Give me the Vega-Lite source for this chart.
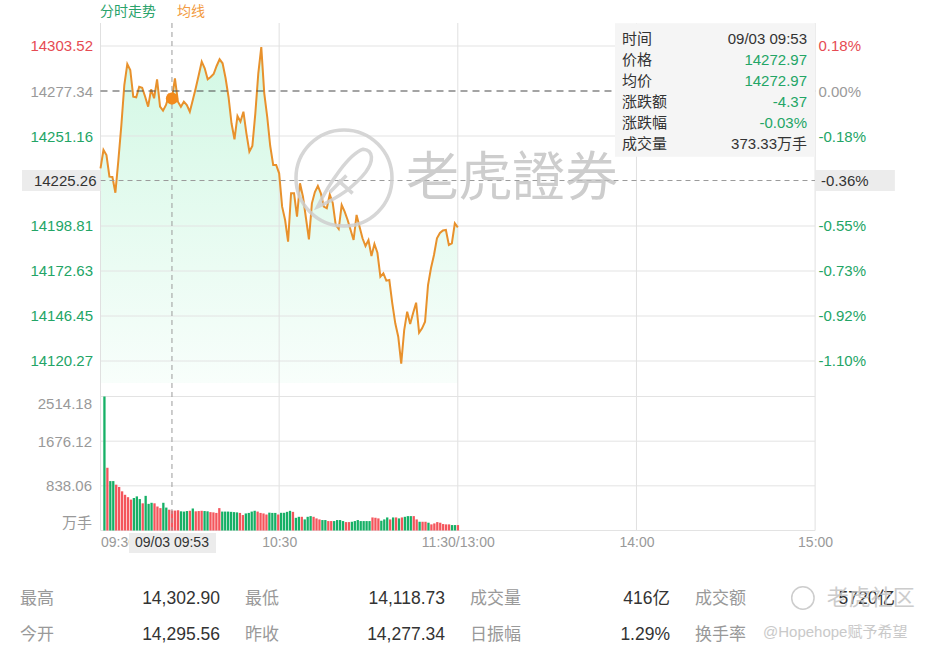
{
  "$schema": "https://vega.github.io/schema/vega-lite/v6.json",
  "width": 937,
  "height": 650,
  "padding": 0,
  "autosize": "none",
  "background": "#ffffff",
  "config": {
    "view": {"stroke": null},
    "font": "Liberation Sans, Noto Sans CJK SC",
    "axis": {"labelFont": "Liberation Sans, Noto Sans CJK SC"}
  },
  "datasets": {
    "price": [
      {"k":0,"p":14232.37},{"k":1,"p":14243.02},{"k":2,"p":14240.11},{"k":3,"p":14227.49},{"k":4,"p":14227.30},
      {"k":5,"p":14218.18},{"k":6,"p":14237.03},{"k":7,"p":14257.33},{"k":8,"p":14280.83},{"k":9,"p":14293.05},
      {"k":10,"p":14289.56},{"k":11,"p":14274.03},{"k":12,"p":14273.68},{"k":13,"p":14279.84},{"k":14,"p":14279.26},
      {"k":15,"p":14274.03},{"k":16,"p":14268.21},{"k":17,"p":14278.33},{"k":18,"p":14273.10},{"k":19,"p":14284.15},
      {"k":20,"p":14268.21},{"k":21,"p":14265.88},{"k":22,"p":14269.20},{"k":23,"p":14275.02},{"k":24,"p":14272.97},
      {"k":25,"p":14284.73},{"k":26,"p":14271.12},{"k":27,"p":14268.21},{"k":28,"p":14271.12},{"k":29,"p":14269.20},
      {"k":30,"p":14265.30},{"k":31,"p":14272.11},{"k":32,"p":14279.09},{"k":33,"p":14286.65},{"k":34,"p":14294.39},
      {"k":35,"p":14290.55},{"k":36,"p":14284.15},{"k":37,"p":14285.49},{"k":38,"p":14287.23},{"k":39,"p":14291.89},
      {"k":40,"p":14295.78},{"k":41,"p":14293.46},{"k":42,"p":14284.90},{"k":43,"p":14273.85},{"k":44,"p":14258.55},
      {"k":45,"p":14249.24},{"k":46,"p":14262.80},{"k":47,"p":14259.48},{"k":48,"p":14265.30},{"k":49,"p":14252.73},
      {"k":50,"p":14242.03},{"k":51,"p":14245.35},{"k":52,"p":14264.37},{"k":53,"p":14287.64},{"k":54,"p":14302.90},
      {"k":55,"p":14276.00},{"k":56,"p":14262.22},{"k":57,"p":14245.35},{"k":58,"p":14234.29},{"k":59,"p":14234.29},
      {"k":60,"p":14229.46},{"k":61,"p":14210.03},{"k":62,"p":14202.30},{"k":63,"p":14189.67},{"k":64,"p":14217.83},
      {"k":65,"p":14217.83},{"k":66,"p":14204.22},{"k":67,"p":14223.65},{"k":68,"p":14215.85},{"k":69,"p":14203.46},
      {"k":70,"p":14191.07},{"k":71,"p":14212.01},{"k":72,"p":14218.59},{"k":73,"p":14222.08},{"k":74,"p":14217.83},
      {"k":75,"p":14210.03},{"k":76,"p":14209.10},{"k":77,"p":14217.13},{"k":78,"p":14212.19},{"k":79,"p":14199.40},
      {"k":80,"p":14197.06},{"k":81,"p":14211.02},{"k":82,"p":14207.13},{"k":83,"p":14202.30},{"k":84,"p":14196.48},
      {"k":85,"p":14190.66},{"k":86,"p":14205.21},{"k":87,"p":14198.40},{"k":88,"p":14191.65},{"k":89,"p":14187.17},
      {"k":90,"p":14190.66},{"k":91,"p":14181.36},{"k":92,"p":14188.34},{"k":93,"p":14183.27},{"k":94,"p":14169.31},
      {"k":95,"p":14171.29},{"k":96,"p":14166.99},{"k":97,"p":14167.39},{"k":98,"p":14153.84},{"k":99,"p":14142.20},
      {"k":100,"p":14134.41},{"k":101,"p":14118.73},{"k":102,"p":14138.30},{"k":103,"p":14148.95},{"k":104,"p":14141.79},
      {"k":105,"p":14148.19},{"k":106,"p":14154.19},{"k":107,"p":14136.73},{"k":108,"p":14139.29},{"k":109,"p":14143.13},
      {"k":110,"p":14164.48},{"k":111,"p":14174.37},{"k":112,"p":14181.94},{"k":113,"p":14191.65},{"k":114,"p":14194.73},
      {"k":115,"p":14196.19},{"k":116,"p":14196.48},{"k":117,"p":14187.75},{"k":118,"p":14188.74},{"k":119,"p":14200.38},
      {"k":120,"p":14198.05}
    ],
    "vol": [
      {"k":0,"v":2514.18,"d":"down"},{"k":1,"v":1177,"d":"up"},{"k":2,"v":927,"d":"down"},{"k":3,"v":927,"d":"down"},
      {"k":4,"v":860,"d":"up"},{"k":5,"v":816,"d":"up"},{"k":6,"v":735,"d":"up"},{"k":7,"v":670,"d":"up"},
      {"k":8,"v":625,"d":"up"},{"k":9,"v":580,"d":"up"},{"k":10,"v":610,"d":"down"},{"k":11,"v":640,"d":"down"},
      {"k":12,"v":590,"d":"down"},{"k":13,"v":510,"d":"up"},{"k":14,"v":650,"d":"down"},{"k":15,"v":500,"d":"down"},
      {"k":16,"v":520,"d":"down"},{"k":17,"v":510,"d":"up"},{"k":18,"v":450,"d":"up"},{"k":19,"v":420,"d":"up"},
      {"k":20,"v":520,"d":"down"},{"k":21,"v":430,"d":"down"},{"k":22,"v":390,"d":"up"},{"k":23,"v":375,"d":"up"},
      {"k":24,"v":373.33,"d":"up"},{"k":25,"v":380,"d":"up"},{"k":26,"v":360,"d":"down"},{"k":27,"v":355,"d":"down"},
      {"k":28,"v":365,"d":"down"},{"k":29,"v":370,"d":"up"},{"k":30,"v":413,"d":"down"},{"k":31,"v":360,"d":"up"},
      {"k":32,"v":365,"d":"up"},{"k":33,"v":370,"d":"up"},{"k":34,"v":365,"d":"down"},{"k":35,"v":360,"d":"down"},
      {"k":36,"v":345,"d":"up"},{"k":37,"v":340,"d":"up"},{"k":38,"v":330,"d":"up"},{"k":39,"v":420,"d":"up"},
      {"k":40,"v":355,"d":"down"},{"k":41,"v":355,"d":"down"},{"k":42,"v":355,"d":"down"},{"k":43,"v":350,"d":"down"},
      {"k":44,"v":345,"d":"down"},{"k":45,"v":340,"d":"down"},{"k":46,"v":330,"d":"up"},{"k":47,"v":290,"d":"up"},
      {"k":48,"v":320,"d":"down"},{"k":49,"v":330,"d":"down"},{"k":50,"v":355,"d":"down"},{"k":51,"v":370,"d":"down"},
      {"k":52,"v":355,"d":"up"},{"k":53,"v":330,"d":"up"},{"k":54,"v":320,"d":"up"},{"k":55,"v":300,"d":"up"},
      {"k":56,"v":335,"d":"down"},{"k":57,"v":330,"d":"down"},{"k":58,"v":330,"d":"down"},{"k":59,"v":300,"d":"up"},
      {"k":60,"v":332,"d":"down"},{"k":61,"v":332,"d":"down"},{"k":62,"v":350,"d":"down"},{"k":63,"v":369,"d":"down"},
      {"k":64,"v":350,"d":"up"},{"k":65,"v":238,"d":"down"},{"k":66,"v":257,"d":"down"},{"k":67,"v":257,"d":"up"},
      {"k":68,"v":208,"d":"down"},{"k":69,"v":257,"d":"down"},{"k":70,"v":270,"d":"down"},{"k":71,"v":257,"d":"up"},
      {"k":72,"v":227,"d":"up"},{"k":73,"v":208,"d":"up"},{"k":74,"v":196,"d":"down"},{"k":75,"v":196,"d":"down"},
      {"k":76,"v":177,"d":"up"},{"k":77,"v":177,"d":"up"},{"k":78,"v":177,"d":"down"},{"k":79,"v":196,"d":"down"},
      {"k":80,"v":196,"d":"down"},{"k":81,"v":177,"d":"down"},{"k":82,"v":158,"d":"up"},{"k":83,"v":158,"d":"up"},
      {"k":84,"v":164,"d":"down"},{"k":85,"v":177,"d":"down"},{"k":86,"v":196,"d":"down"},{"k":87,"v":177,"d":"down"},
      {"k":88,"v":177,"d":"down"},{"k":89,"v":177,"d":"down"},{"k":90,"v":177,"d":"down"},{"k":91,"v":245,"d":"up"},
      {"k":92,"v":239,"d":"up"},{"k":93,"v":227,"d":"up"},{"k":94,"v":183,"d":"down"},{"k":95,"v":208,"d":"down"},
      {"k":96,"v":245,"d":"down"},{"k":97,"v":208,"d":"up"},{"k":98,"v":245,"d":"down"},{"k":99,"v":245,"d":"up"},
      {"k":100,"v":227,"d":"down"},{"k":101,"v":245,"d":"up"},{"k":102,"v":257,"d":"down"},{"k":103,"v":270,"d":"down"},
      {"k":104,"v":270,"d":"down"},{"k":105,"v":270,"d":"up"},{"k":106,"v":208,"d":"up"},{"k":107,"v":164,"d":"down"},
      {"k":108,"v":164,"d":"up"},{"k":109,"v":164,"d":"up"},{"k":110,"v":146,"d":"down"},{"k":111,"v":115,"d":"up"},
      {"k":112,"v":133,"d":"up"},{"k":113,"v":158,"d":"up"},{"k":114,"v":146,"d":"up"},{"k":115,"v":121,"d":"up"},
      {"k":116,"v":115,"d":"up"},{"k":117,"v":115,"d":"up"},{"k":118,"v":102,"d":"down"},{"k":119,"v":102,"d":"down"},
      {"k":120,"v":102,"d":"up"}
    ],
    "grid": [{"g":14303.52},{"g":14251.16},{"g":14198.81},{"g":14172.63},{"g":14146.45},{"g":14120.27}],
    "vgrid": [{"t":0},{"t":60},{"t":120},{"t":180},{"t":240}],
    "volgrid": [{"q":0},{"q":838.06},{"q":1676.12},{"q":2514.18}],
    "hover": [{"k":24,"p":14272.97,"c":14225.26,"pct":"-0.36%","t":"09/03 09:53"}],
    "tip": [
      {"n":"时间","v":"09/03 09:53","i":0,"s":"flat"},
      {"n":"价格","v":"14272.97","i":1,"s":"down"},
      {"n":"均价","v":"14272.97","i":2,"s":"down"},
      {"n":"涨跌额","v":"-4.37","i":3,"s":"down"},
      {"n":"涨跌幅","v":"-0.03%","i":4,"s":"down"},
      {"n":"成交量","v":"373.33万手","i":5,"s":"flat"}
    ],
    "legend": [{"n":"分时走势","j":0},{"n":"均线","j":1}],
    "stats": [
      {"n":"最高","v":"14,302.90","c":0,"r":0},
      {"n":"最低","v":"14,118.73","c":1,"r":0},
      {"n":"成交量","v":"416亿","c":2,"r":0},
      {"n":"成交额","v":"5720亿","c":3,"r":0},
      {"n":"今开","v":"14,295.56","c":0,"r":1},
      {"n":"昨收","v":"14,277.34","c":1,"r":1},
      {"n":"日振幅","v":"1.29%","c":2,"r":1},
      {"n":"换手率","v":"","c":3,"r":1}
    ]
  },
  "resolve": {
    "scale": {"x": "independent", "y": "independent", "color": "independent"},
    "axis": {"x": "independent", "y": "independent"}
  },
  "layer": [
    {
      "data": {"name": "price"},
      "mark": {"type": "area", "orient": "vertical", "line": false,
        "color": {"gradient": "linear", "x1": 0, "y1": 0, "x2": 0, "y2": 1,
          "stops": [{"offset": 0, "color": "#d2f8e4"}, {"offset": 1, "color": "#f8fefb"}]}},
      "encoding": {
        "x": {"field": "k", "type": "quantitative", "scale": {"domain": [-33.753, 280.94], "nice": false, "zero": false}, "axis": null},
        "y": {"field": "p", "type": "quantitative", "scale": {"domain": [13952.145, 14330.28], "nice": false, "zero": false},
          "axis": {"orient": "right", "offset": -122, "values": [14303.52, 14277.34, 14251.16, 14198.81, 14172.63, 14146.45, 14120.27],
            "labelExpr": "(datum.value < 14277.33 ? '-' : '') + format(abs(datum.value / 14277.34 - 1) * 100, '.2f') + '%'",
            "grid": false, "ticks": false, "domain": false, "title": null, "labelPadding": 3, "labelFontSize": 15,
            "labelOverlap": false, "labelBound": false, "labelFlush": false,
            "labelColor": {"condition": [{"test": "datum.value > 14277.35", "value": "#e64b53"}, {"test": "datum.value > 14277.33", "value": "#9a9a9a"}], "value": "#23a566"}}},
        "y2": {"datum": 14107.47}
      }
    },
    {
      "data": {"name": "grid"},
      "mark": {"type": "rule", "color": "#e3e3e3", "strokeWidth": 1},
      "encoding": {
        "y": {"field": "g", "type": "quantitative", "scale": {"domain": [13952.145, 14330.28], "nice": false, "zero": false}, "axis": null},
        "x": {"datum": 0, "scale": {"domain": [-33.753, 280.94], "nice": false, "zero": false}, "axis": null},
        "x2": {"datum": 240}
      }
    },
    {
      "data": {"name": "vgrid"},
      "mark": {"type": "rule", "color": "#e0e0e0", "strokeWidth": 1},
      "encoding": {
        "x": {"field": "t", "type": "quantitative", "scale": {"domain": [-33.753, 280.94], "nice": false, "zero": false},
          "axis": {"orient": "bottom", "offset": -119.5, "values": [0, 60, 120, 180, 240],
            "labelExpr": "datum.value == 0 ? '09:30' : datum.value == 60 ? '10:30' : datum.value == 120 ? '11:30/13:00' : datum.value == 180 ? '14:00' : '15:00'",
            "labelAlign": {"condition": {"test": "datum.value == 0", "value": "left"}, "value": "center"},
            "grid": false, "ticks": false, "domain": false, "title": null, "labelPadding": 5, "labelFontSize": 14,
            "labelColor": "#999999", "labelOverlap": false, "labelBound": false, "labelFlush": false}},
        "y": {"datum": 14316.9, "scale": {"domain": [13952.145, 14330.28], "nice": false, "zero": false}, "axis": null},
        "y2": {"datum": 14021.66}
      }
    },
    {
      "data": {"name": "volgrid"},
      "mark": {"type": "rule", "color": "#e3e3e3", "strokeWidth": 1},
      "encoding": {
        "y": {"field": "q", "type": "quantitative", "scale": {"domain": [-2242.1, 9953.5], "nice": false, "zero": false}, "axis": null},
        "x": {"datum": 0, "scale": {"domain": [-33.753, 280.94], "nice": false, "zero": false}, "axis": null},
        "x2": {"datum": 240}
      }
    },
    {
      "data": {"name": "vol"},
      "mark": {"type": "bar", "size": 2.3},
      "encoding": {
        "x": {"field": "k", "type": "quantitative", "scale": {"domain": [-33.753, 280.94], "nice": false, "zero": false}, "axis": null},
        "y": {"field": "v", "type": "quantitative", "scale": {"domain": [-2242.1, 9953.5], "nice": false, "zero": false},
          "axis": {"orient": "left", "offset": -100.5, "values": [0, 838.06, 1676.12, 2514.18],
            "labelExpr": "datum.value == 0 ? '万手' : format(datum.value, '.2f')",
            "labelBaseline": {"condition": [{"test": "datum.value == 0", "value": "bottom"}, {"test": "datum.value > 2500", "value": "top"}], "value": "middle"},
            "grid": false, "ticks": false, "domain": false, "title": null, "labelPadding": 9, "labelFontSize": 15,
            "labelColor": "#999999", "labelOverlap": false, "labelBound": false, "labelFlush": false}},
        "y2": {"datum": 0},
        "color": {"field": "d", "type": "nominal", "scale": {"domain": ["up", "down"], "range": ["#f4555c", "#16b066"]}, "legend": null}
      }
    },
    {
      "data": {"name": "price"},
      "mark": {"type": "line", "color": "#e8912c", "strokeWidth": 2},
      "encoding": {
        "x": {"field": "k", "type": "quantitative", "scale": {"domain": [-33.753, 280.94], "nice": false, "zero": false}, "axis": null},
        "y": {"field": "p", "type": "quantitative", "scale": {"domain": [13952.145, 14330.28], "nice": false, "zero": false},
          "axis": {"orient": "left", "offset": -100.5, "values": [14303.52, 14277.34, 14251.16, 14198.81, 14172.63, 14146.45, 14120.27],
            "format": ".2f", "grid": false, "ticks": false, "domain": false, "title": null, "labelPadding": 8, "labelFontSize": 15,
            "labelOverlap": false, "labelBound": false, "labelFlush": false,
            "labelColor": {"condition": [{"test": "datum.value > 14277.35", "value": "#e64b53"}, {"test": "datum.value > 14277.33", "value": "#9a9a9a"}], "value": "#23a566"}}}
      }
    },
    {
      "data": {"values": [{}]},
      "mark": {"type": "rule", "color": "#4a4a4a", "strokeWidth": 1.2, "strokeDash": [7, 5]},
      "encoding": {
        "y": {"datum": 14277.34, "scale": {"domain": [13952.145, 14330.28], "nice": false, "zero": false}, "axis": null},
        "x": {"datum": 0, "scale": {"domain": [-33.753, 280.94], "nice": false, "zero": false}, "axis": null},
        "x2": {"datum": 240}
      }
    },
    {
      "data": {"name": "hover"},
      "mark": {"type": "rule", "color": "#9a9a9a", "strokeWidth": 1, "strokeDash": [5, 4]},
      "encoding": {
        "y": {"field": "c", "type": "quantitative", "scale": {"domain": [13952.145, 14330.28], "nice": false, "zero": false}, "axis": null},
        "x": {"datum": 0, "scale": {"domain": [-33.753, 280.94], "nice": false, "zero": false}, "axis": null},
        "x2": {"datum": 240}
      }
    },
    {
      "data": {"name": "hover"},
      "mark": {"type": "rule", "color": "#9a9a9a", "strokeWidth": 1, "strokeDash": [5, 4]},
      "encoding": {
        "x": {"field": "k", "type": "quantitative", "scale": {"domain": [-33.753, 280.94], "nice": false, "zero": false}, "axis": null},
        "y": {"datum": 14316.9, "scale": {"domain": [13952.145, 14330.28], "nice": false, "zero": false}, "axis": null},
        "y2": {"datum": 14021.66}
      }
    },
    {
      "data": {"name": "hover"},
      "mark": {"type": "point", "filled": true, "color": "#f28a1c", "size": 150, "opacity": 1},
      "encoding": {
        "x": {"field": "k", "type": "quantitative", "scale": {"domain": [-33.753, 280.94], "nice": false, "zero": false}, "axis": null},
        "y": {"field": "p", "type": "quantitative", "scale": {"domain": [13952.145, 14330.28], "nice": false, "zero": false}, "axis": null}
      }
    },
    {
      "data": {"values": [{}]},
      "mark": {"type": "rect", "color": "#ececec"},
      "encoding": {
        "x": {"datum": -26.36, "scale": {"domain": [-33.753, 280.94], "nice": false, "zero": false}, "axis": null},
        "x2": {"datum": 0},
        "y": {"datum": 14231.39, "scale": {"domain": [13952.145, 14330.28], "nice": false, "zero": false}, "axis": null},
        "y2": {"datum": 14219.17}
      }
    },
    {
      "data": {"values": [{}]},
      "mark": {"type": "rect", "color": "#ececec"},
      "encoding": {
        "x": {"datum": 240, "scale": {"domain": [-33.753, 280.94], "nice": false, "zero": false}, "axis": null},
        "x2": {"datum": 266.8},
        "y": {"datum": 14231.39, "scale": {"domain": [13952.145, 14330.28], "nice": false, "zero": false}, "axis": null},
        "y2": {"datum": 14219.17}
      }
    },
    {
      "data": {"values": [{}]},
      "mark": {"type": "rect", "color": "#ececec"},
      "encoding": {
        "x": {"datum": 9.57, "scale": {"domain": [-33.753, 280.94], "nice": false, "zero": false}, "axis": null},
        "x2": {"datum": 38.79},
        "y": {"datum": 14020.21, "scale": {"domain": [13952.145, 14330.28], "nice": false, "zero": false}, "axis": null},
        "y2": {"datum": 14008.57}
      }
    },
    {
      "data": {"name": "hover"},
      "mark": {"type": "text", "align": "right", "baseline": "middle", "dx": -4, "fontSize": 15, "color": "#333333", "font": "Liberation Sans"},
      "encoding": {
        "text": {"field": "c", "type": "quantitative", "format": ".2f"},
        "x": {"datum": 0, "scale": {"domain": [-33.753, 280.94], "nice": false, "zero": false}, "axis": null},
        "y": {"field": "c", "type": "quantitative", "scale": {"domain": [13952.145, 14330.28], "nice": false, "zero": false}, "axis": null}
      }
    },
    {
      "data": {"name": "hover"},
      "mark": {"type": "text", "align": "left", "baseline": "middle", "dx": 6, "fontSize": 15, "color": "#333333", "font": "Liberation Sans"},
      "encoding": {
        "text": {"field": "pct", "type": "nominal"},
        "x": {"datum": 240, "scale": {"domain": [-33.753, 280.94], "nice": false, "zero": false}, "axis": null},
        "y": {"field": "c", "type": "quantitative", "scale": {"domain": [13952.145, 14330.28], "nice": false, "zero": false}, "axis": null}
      }
    },
    {
      "data": {"name": "hover"},
      "mark": {"type": "text", "align": "center", "baseline": "middle", "fontSize": 14, "color": "#333333", "font": "Liberation Sans"},
      "encoding": {
        "text": {"field": "t", "type": "nominal"},
        "x": {"field": "k", "type": "quantitative", "scale": {"domain": [-33.753, 280.94], "nice": false, "zero": false}, "axis": null},
        "y": {"datum": 14014.39, "scale": {"domain": [13952.145, 14330.28], "nice": false, "zero": false}, "axis": null}
      }
    },
    {
      "data": {"values": [{}]},
      "mark": {"type": "rect", "color": "#f5f5f5"},
      "encoding": {
        "x": {"datum": 172.8, "scale": {"domain": [-33.753, 280.94], "nice": false, "zero": false}, "axis": null},
        "x2": {"datum": 240},
        "y": {"datum": 14316.73, "scale": {"domain": [13952.145, 14330.28], "nice": false, "zero": false}, "axis": null},
        "y2": {"datum": 14239.12}
      }
    },
    {
      "data": {"name": "tip"},
      "mark": {"type": "text", "align": "left", "baseline": "middle", "fontSize": 15, "color": "#333333", "font": "Noto Sans CJK SC"},
      "encoding": {
        "text": {"field": "n", "type": "nominal"},
        "x": {"datum": 175.15, "scale": {"domain": [-33.753, 280.94], "nice": false, "zero": false}, "axis": null},
        "y": {"field": "i", "type": "quantitative", "scale": {"domain": [0, 5], "range": [38.5, 143.5], "nice": false, "zero": false}, "axis": null}
      }
    },
    {
      "data": {"name": "tip"},
      "mark": {"type": "text", "align": "right", "baseline": "middle", "fontSize": 15, "font": "Liberation Sans, Noto Sans CJK SC"},
      "encoding": {
        "text": {"field": "v", "type": "nominal"},
        "x": {"datum": 237.28, "scale": {"domain": [-33.753, 280.94], "nice": false, "zero": false}, "axis": null},
        "y": {"field": "i", "type": "quantitative", "scale": {"domain": [0, 5], "range": [38.5, 143.5], "nice": false, "zero": false}, "axis": null},
        "color": {"field": "s", "type": "nominal", "scale": {"domain": ["flat", "down"], "range": ["#333333", "#23a566"]}, "legend": null}
      }
    },
    {
      "data": {"name": "legend"},
      "mark": {"type": "text", "align": "left", "baseline": "middle", "fontSize": 14, "font": "Noto Sans CJK SC"},
      "encoding": {
        "text": {"field": "n", "type": "nominal"},
        "x": {"field": "j", "type": "quantitative", "scale": {"domain": [0, 1], "range": [100, 177], "nice": false, "zero": false}, "axis": null},
        "y": {"datum": 14323.3, "scale": {"domain": [13952.145, 14330.28], "nice": false, "zero": false}, "axis": null},
        "color": {"field": "n", "type": "nominal", "scale": {"domain": ["分时走势", "均线"], "range": ["#2aa36b", "#f29b42"]}, "legend": null}
      }
    },
    {
      "data": {"values": [{}]},
      "mark": {"type": "point", "shape": "circle", "filled": false, "size": 9216, "stroke": "#cfcfcf", "strokeWidth": 3.5, "opacity": 0.85},
      "encoding": {
        "x": {"datum": 81.78, "scale": {"domain": [-33.753, 280.94], "nice": false, "zero": false}, "axis": null},
        "y": {"datum": 14226.73, "scale": {"domain": [13952.145, 14330.28], "nice": false, "zero": false}, "axis": null}
      }
    },
    {
      "data": {"values": [{}]},
      "mark": {"type": "point", "shape": "M -0.55 0.6 C -0.3 0.1 0.1 -0.5 0.4 -0.6 C 0.62 -0.58 0.62 -0.35 0.45 -0.12 C 0.2 0.2 -0.2 0.45 -0.55 0.6 Z M -0.12 0.05 L 0.18 0.32 M -0.3 0.3 L 0.05 -0.05", "filled": false, "size": 9216, "stroke": "#cfcfcf", "strokeWidth": 3.5, "opacity": 0.85},
      "encoding": {
        "x": {"datum": 81.78, "scale": {"domain": [-33.753, 280.94], "nice": false, "zero": false}, "axis": null},
        "y": {"datum": 14226.73, "scale": {"domain": [13952.145, 14330.28], "nice": false, "zero": false}, "axis": null}
      }
    },
    {
      "data": {"values": [{}]},
      "mark": {"type": "text", "text": "老虎證券", "align": "left", "baseline": "middle", "fontSize": 53, "font": "Noto Sans CJK TC", "color": "#bdbdbd", "opacity": 0.75},
      "encoding": {
        "x": {"datum": 102.6, "scale": {"domain": [-33.753, 280.94], "nice": false, "zero": false}, "axis": null},
        "y": {"datum": 14225.57, "scale": {"domain": [13952.145, 14330.28], "nice": false, "zero": false}, "axis": null}
      }
    },
    {
      "data": {"name": "stats"},
      "mark": {"type": "text", "align": "left", "baseline": "middle", "fontSize": 17, "color": "#999999", "font": "Noto Sans CJK SC"},
      "encoding": {
        "text": {"field": "n", "type": "nominal"},
        "x": {"field": "c", "type": "quantitative", "scale": {"domain": [0, 3], "range": [20, 695], "nice": false, "zero": false}, "axis": null},
        "y": {"field": "r", "type": "quantitative", "scale": {"domain": [0, 1], "range": [599, 635], "nice": false, "zero": false}, "axis": null}
      }
    },
    {
      "data": {"name": "stats"},
      "mark": {"type": "text", "align": "right", "baseline": "middle", "fontSize": 17.5, "color": "#333333", "font": "Liberation Sans, Noto Sans CJK SC"},
      "encoding": {
        "text": {"field": "v", "type": "nominal"},
        "x": {"field": "c", "type": "quantitative", "scale": {"domain": [0, 3], "range": [220, 895], "nice": false, "zero": false}, "axis": null},
        "y": {"field": "r", "type": "quantitative", "scale": {"domain": [0, 1], "range": [599, 635], "nice": false, "zero": false}, "axis": null}
      }
    },
    {
      "data": {"values": [{}]},
      "mark": {"type": "point", "shape": "circle", "filled": false, "size": 500, "stroke": "#c8c8c8", "strokeWidth": 1.5, "opacity": 0.9},
      "encoding": {
        "x": {"datum": 235.9, "scale": {"domain": [-33.753, 280.94], "nice": false, "zero": false}, "axis": null},
        "y": {"datum": 13982.4, "scale": {"domain": [13952.145, 14330.28], "nice": false, "zero": false}, "axis": null}
      }
    },
    {
      "data": {"values": [{}]},
      "mark": {"type": "text", "text": "老虎社区", "align": "left", "baseline": "middle", "fontSize": 22, "font": "Noto Sans CJK SC", "color": "#c4c4c4", "opacity": 0.85},
      "encoding": {
        "x": {"datum": 243.9, "scale": {"domain": [-33.753, 280.94], "nice": false, "zero": false}, "axis": null},
        "y": {"datum": 13982.4, "scale": {"domain": [13952.145, 14330.28], "nice": false, "zero": false}, "axis": null}
      }
    },
    {
      "data": {"values": [{}]},
      "mark": {"type": "text", "text": "@Hopehope赋予希望", "align": "left", "baseline": "middle", "fontSize": 15, "font": "Liberation Sans, Noto Sans CJK SC", "color": "#c4c4c4", "opacity": 0.9},
      "encoding": {
        "x": {"datum": 222.5, "scale": {"domain": [-33.753, 280.94], "nice": false, "zero": false}, "axis": null},
        "y": {"datum": 13962.62, "scale": {"domain": [13952.145, 14330.28], "nice": false, "zero": false}, "axis": null}
      }
    }
  ]
}
